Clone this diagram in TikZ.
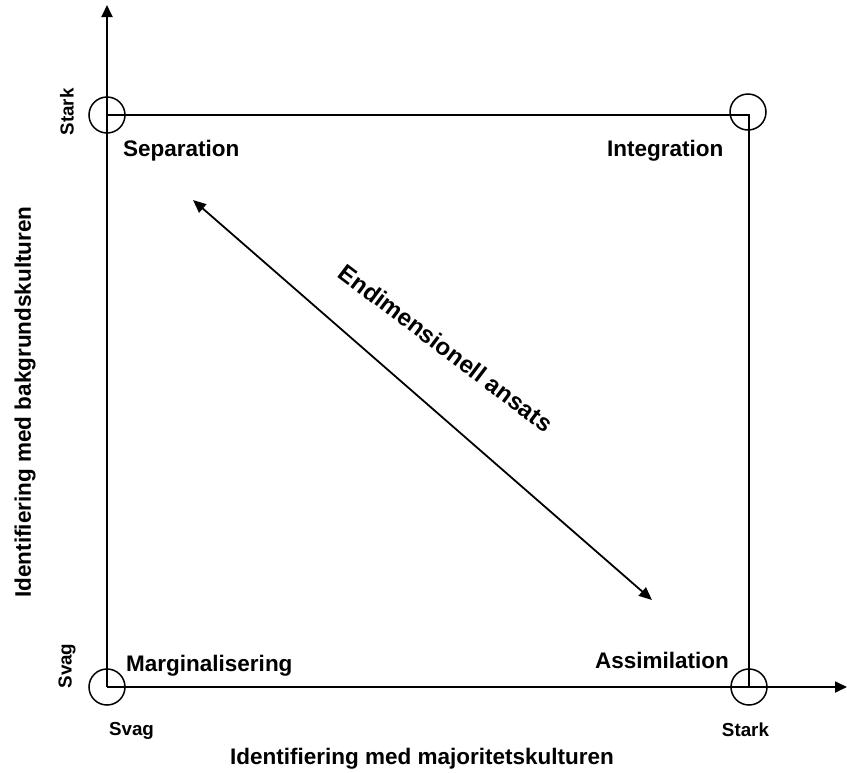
\documentclass[tikz,border=0pt]{standalone}
\usepackage{fontspec}
\setmainfont{Liberation Sans}
\usetikzlibrary{arrows.meta}
\begin{document}
\begin{tikzpicture}[x=1pt,y=-1pt,
  axisline/.style={line width=1.8pt},
  ring/.style={circle,draw,line width=1.5pt,minimum size=36pt,inner sep=0pt},
  quad/.style={font=\fontsize{22.5}{24}\selectfont\bfseries,inner sep=0pt,anchor=base west},
  axlabel/.style={font=\fontsize{22.5}{24}\selectfont\bfseries,inner sep=0pt},
  diaglabel/.style={font=\fontsize{24}{26}\selectfont\bfseries,inner sep=0pt},
  tick/.style={font=\fontsize{18.8}{20}\selectfont\bfseries,inner sep=0pt},
  tip/.style={-{Triangle[length=12pt,width=11pt]}}
]
\useasboundingbox (0,0) rectangle (847,772);
% corners
\coordinate (bl) at (107,687);
\coordinate (tl) at (107,115);
\coordinate (tr) at (749,115);
\coordinate (br) at (749,687);
\coordinate (ytop) at (107,5);
\coordinate (xend) at (847,687);
% axes and box
\draw[axisline,tip] (bl) -- (ytop);
\draw[axisline,tip] (bl) -- (xend);
\draw[axisline] (tl) -- (tr) -- (br);
% circles
\node[ring] (ctl) at (tl) {};
\node[ring] (ctr) at (748,112) {};
\node[ring] (cbl) at (bl) {};
\node[ring] (cbr) at (br) {};
% quadrant labels
\node[quad] (sep) at (123,156) {Separation};
\node[quad] (int) at (607,156) {Integration};
\node[quad] (mar) at (126,671) {Marginalisering};
\node[quad] (ass) at (595,668) {Assimilation};
% diagonal arrow
\coordinate (d1) at (193,200);
\coordinate (d2) at (652,600);
\draw[line width=1.8pt,{Triangle[length=13pt,width=11pt]}-{Triangle[length=13pt,width=11pt]}] (d1) -- (d2);
\node[diaglabel,rotate=-37] (endim) at (446,348) {Endimensionell ansats};
% axis labels
\node[axlabel,anchor=base] (xlab) at (422,764) {Identifiering med majoritetskulturen};
\node[axlabel,rotate=90] (ylab) at (25,402) {Identifiering med bakgrundskulturen};
% ticks
\node[tick,anchor=base] (xsvag) at (131.5,735) {Svag};
\node[tick,anchor=base] (xstark) at (745.5,736) {Stark};
\node[tick,rotate=90] (ystark) at (67,112) {Stark};
\node[tick,rotate=90] (ysvag) at (67,666) {Svag};
\end{tikzpicture}
\end{document}
